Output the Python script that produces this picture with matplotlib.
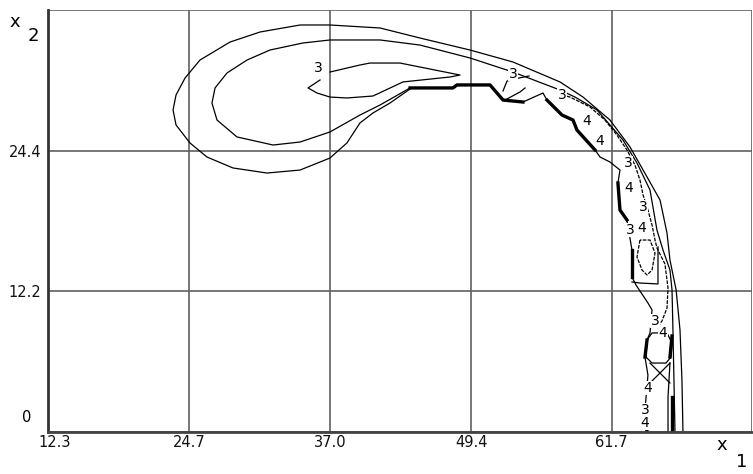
import matplotlib
matplotlib.use('Agg')
import matplotlib.pyplot as plt
import matplotlib.transforms as mtrans

# grid / tick values
x_ticks = [12.3, 24.7, 37.0, 49.4, 61.7, 74.0]
x_tick_labels = ['12.3', '24.7', '37.0', '49.4', '61.7', '']
y_ticks = [0, 12.2, 24.4, 36.6]
y_tick_labels = ['', '12.2', '24.4', '']

# contour level 1 (outermost)
lev1_x = [67.95, 67.86, 67.69, 67.35, 66.81, 66.55, 65.94, 64.80, 63.31, 61.55, 59.19, 57.17, 53.05,
          49.28, 44.90, 41.40, 37.01, 34.39, 30.88, 28.25, 25.62, 24.31, 23.52, 23.26, 23.52, 24.74,
          26.23, 28.51, 31.49, 34.39, 37.01, 38.50, 39.64, 40.78, 42.27, 44.03]
lev1_y = [0, 4.51, 8.85, 12.32, 14.92, 17.26, 20.12, 22.12, 24.72, 27.06, 29.05, 30.36, 32.09,
          33.13, 34.17, 35.04, 35.30, 35.30, 34.69, 33.82, 32.26, 30.70, 29.23, 27.93, 26.63, 25.07,
          23.85, 22.90, 22.46, 22.72, 23.76, 25.07, 26.80, 27.67, 28.53, 29.75]

# contour level 2
lev2_x = [67.25, 67.16, 67.07, 66.99, 66.81, 66.20, 65.67, 65.06, 63.92, 62.69, 60.41, 58.49, 57.17,
          53.05, 49.28, 44.90, 41.40, 37.01, 34.65, 31.76, 29.74, 27.99, 26.94, 26.67, 27.11, 28.86,
          32.02, 34.39, 37.01, 39.64, 41.40, 44.03]
lev2_y = [0, 4.51, 8.85, 12.32, 14.05, 15.78, 17.52, 20.99, 23.33, 25.33, 27.93, 29.05, 29.66,
          31.22, 32.44, 33.56, 34.00, 34.00, 33.74, 33.13, 32.26, 31.14, 29.84, 28.53, 27.06, 25.59,
          24.89, 25.15, 26.02, 27.49, 28.36, 29.84]

# contour level 3, teardrop
lev3a_x = [36.14, 35.09, 35.88, 37.01, 38.50, 40.78, 43.41, 47.53, 48.41, 43.15, 40.52, 39.64, 37.01]
lev3a_y = [30.53, 29.84, 29.40, 29.05, 28.97, 29.14, 30.36, 30.79, 30.96, 32.00, 32.00, 31.83, 31.22]

# contour level 3, along the band
lev3b_x = [57.35, 58.05, 59.80, 61.11, 62.16, 63.04, 63.74, 64.18, 64.45, 64.88, 65.24, 65.50,
           65.67, 66.37, 66.64, 66.55, 66.11, 65.67]
lev3b_y = [29.23, 29.05, 28.19, 27.06, 25.76, 24.46, 23.16, 21.86, 20.56, 19.25, 17.95, 16.65,
           15.96, 14.57, 12.49, 10.75, 9.63, 9.02]
lev3c_x = [64.18, 63.92, 64.36, 64.80, 65.24, 65.50, 65.06, 64.18]
lev3c_y = [16.65, 15.18, 14.05, 13.62, 14.05, 15.52, 16.65, 16.65]
lev3d_x = [52.18, 52.53, 53.58, 54.46]
lev3d_y = [29.58, 30.44, 30.70, 30.88]
lev3e_x = [52.35, 53.67, 54.11]
lev3e_y = [28.79, 29.49, 29.84]

# contour level 4, inner edge of the band
lev4_x = [44.03, 47.79, 48.14, 51.04, 52.18, 53.93, 55.68, 56.03, 57.35, 58.31, 58.66, 60.24, 60.68,
          61.55, 62.43, 62.25, 62.43, 63.04, 63.48, 63.48, 63.83, 64.88, 65.24, 65.06, 64.80, 64.62,
          64.88, 64.62, 64.80]
lev4_y = [29.84, 29.84, 30.10, 30.10, 28.79, 28.62, 29.40, 28.79, 27.49, 27.06, 26.19, 24.46, 23.85,
          23.42, 22.72, 21.60, 19.25, 18.39, 15.78, 13.44, 12.75, 11.19, 10.58, 8.59, 7.98, 6.50,
          4.94, 1.91, 0]
# heavy stretches of level 4
heavy_x = [[44.03, 47.79, 48.14, 51.04, 52.18, 53.93],
           [56.03, 57.35, 58.31, 58.66, 60.24],
           [62.25, 62.43, 63.04],
           [63.48, 63.48],
           [64.80, 64.62],
           [64.62, 64.80],
           [66.99, 66.99],
           [66.99, 66.81]]
heavy_y = [[29.84, 29.84, 30.10, 30.10, 28.79, 28.62],
           [28.79, 27.49, 27.06, 26.19, 24.46],
           [21.60, 19.25, 18.39],
           [15.78, 13.44],
           [7.98, 6.50],
           [1.91, 0],
           [3.04, 0],
           [8.33, 6.50]]

# level 4 pieces near the bottom
box_x = [63.48, 64.18, 65.76, 65.76]
box_y = [13.01, 12.92, 12.84, 16.05]
hex_x = [64.80, 65.24, 66.55, 66.99, 66.90, 66.46, 65.24, 64.71, 64.80]
hex_y = [7.98, 8.59, 8.59, 7.72, 6.50, 5.98, 5.98, 6.50, 7.98]
cross1_x = [65.06, 66.81]
cross1_y = [5.98, 4.25]
cross2_x = [66.81, 65.06]
cross2_y = [5.98, 4.25]
low_x = [66.81, 66.64, 66.64]
low_y = [5.98, 3.04, 0]

# label positions and text
lab_x = [35.96, 53.05, 57.35, 59.54, 60.68, 63.13, 63.22, 64.45, 63.31, 64.36, 65.50, 66.20, 64.88, 64.62, 64.62]
lab_y = [31.57, 31.05, 29.23, 26.97, 25.24, 23.33, 21.16, 19.51, 17.52, 17.69, 9.63, 8.59, 3.81, 1.91, 0.78]
lab_txt = ['3', '3', '3', '4', '4', '3', '4', '3', '3', '4', '3', '4', '4', '3', '4']

fig = plt.figure(figsize=(7.53, 4.74), dpi=100)
ax = fig.add_axes([48 / 753, 42 / 474, 704 / 753, 422 / 474])
ax.set_xlim(12.3, 74.0)
ax.set_ylim(0, 36.6)

ax.set_xticks(x_ticks)
ax.set_xticklabels(x_tick_labels)
ax.set_yticks(y_ticks)
ax.set_yticklabels(y_tick_labels)
ax.tick_params(length=0, labelsize=10.5, colors='#111111')
ax.tick_params(axis='x', pad=2)
ax.tick_params(axis='y', pad=5)
# first x label sits a little to the right of the corner
first = ax.get_xticklabels()[0]
first.set_transform(first.get_transform() + mtrans.ScaledTranslation(7 / 100, 0, fig.dpi_scale_trans))
ax.grid(True, color='#606060', linewidth=1.2)
ax.set_axisbelow(True)
for side in ['top', 'right']:
    ax.spines[side].set_visible(False)
ax.spines['left'].set_linewidth(2)
ax.spines['left'].set_color('#333333')
ax.spines['bottom'].set_linewidth(2)
ax.spines['bottom'].set_color('#444444')

lw = 0.9
ax.plot(lev1_x, lev1_y, color='black', lw=lw)
ax.plot(lev2_x, lev2_y, color='black', lw=lw)
ax.plot(lev3a_x, lev3a_y, color='black', lw=lw)
ax.plot(lev3b_x, lev3b_y, color='black', lw=lw, ls=(0, (3, 1)))
ax.plot(lev3c_x, lev3c_y, color='black', lw=lw, ls=(0, (3, 1)))
ax.plot(lev3d_x, lev3d_y, color='black', lw=lw)
ax.plot(lev3e_x, lev3e_y, color='black', lw=lw)
ax.plot(lev4_x, lev4_y, color='black', lw=lw)
for hx, hy in zip(heavy_x, heavy_y):
    ax.plot(hx, hy, color='black', lw=2.4)
ax.plot(box_x, box_y, color='black', lw=lw)
ax.plot(hex_x, hex_y, color='black', lw=lw)
ax.plot(cross1_x, cross1_y, color='black', lw=lw)
ax.plot(cross2_x, cross2_y, color='black', lw=lw)
ax.plot(low_x, low_y, color='black', lw=lw)

for tx, ty, t in zip(lab_x, lab_y, lab_txt):
    ax.text(tx, ty, t, fontsize=10, ha='center', va='center', color='black',
            bbox=dict(facecolor='white', edgecolor='none', pad=0.2))

# axis names and the zero label
ax.text(-0.030, 0.035, '0', transform=ax.transAxes, fontsize=10.5, ha='center', va='center')
fig.text(15 / 753, 1 - 22 / 474, 'x', fontsize=13, ha='center', va='center')
fig.text(33 / 753, 1 - 36 / 474, '2', fontsize=13, ha='center', va='center')
fig.text(722 / 753, 1 - 445 / 474, 'x', fontsize=13, ha='center', va='center')
fig.text(742 / 753, 1 - 462 / 474, '1', fontsize=13, ha='center', va='center')

fig.savefig('out.png', dpi=100)
